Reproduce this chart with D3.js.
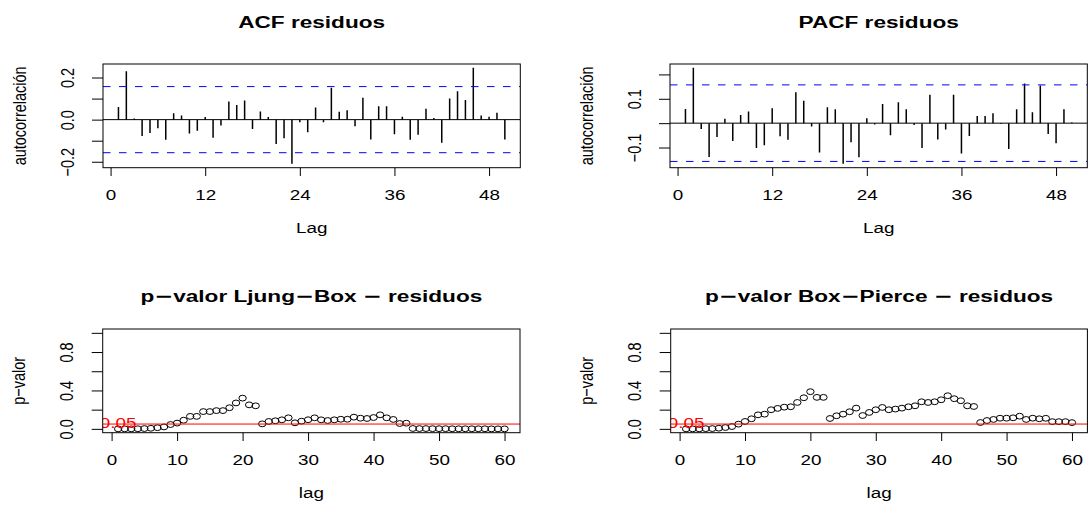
<!DOCTYPE html>
<html><head><meta charset="utf-8">
<script src="https://cdn.jsdelivr.net/npm/d3@7"></script>
<style>html,body{margin:0;padding:0;background:#fff;} svg{display:block;font-family:'Liberation Sans',Arial,Helvetica,sans-serif;} .mn{font-family:'DejaVu Sans';}</style>
</head><body><svg id="c" width="1088" height="506"></svg>
<script>
// ---------- data ----------
const acfValues = [0.060, 0.230, 0.005, -0.078, -0.064, -0.041, -0.096, 0.030, 0.020, -0.066,
  -0.053, 0.013, -0.086, -0.028, 0.086, 0.069, 0.091, -0.044, 0.039, 0.013,
  -0.116, -0.088, -0.210, -0.012, -0.060, 0.058, -0.012, 0.152, 0.038, 0.045,
  -0.031, 0.104, -0.094, 0.064, 0.064, -0.069, 0.014, -0.096, -0.072, 0.052,
  0.008, -0.110, 0.100, 0.135, 0.093, 0.246, 0.020, 0.014, 0.033, -0.094];
const pacfValues = [0.058, 0.227, -0.024, -0.139, -0.057, 0.018, -0.073, 0.033, 0.048, -0.102,
  -0.091, 0.061, -0.054, -0.068, 0.127, 0.092, -0.014, -0.120, 0.065, 0.057,
  -0.167, -0.078, -0.140, 0.020, -0.005, 0.079, -0.050, 0.086, 0.057, -0.008,
  -0.102, 0.117, -0.067, -0.026, 0.117, -0.125, -0.053, 0.029, 0.029, 0.041,
  -0.003, -0.106, 0.057, 0.163, 0.045, 0.155, -0.044, -0.082, 0.057, 0.003];
const ljungBoxP = [0.000, 0.000, 0.000, 0.001, 0.003, 0.006, 0.012, 0.020, 0.045, 0.060,
  0.090, 0.130, 0.130, 0.180, 0.180, 0.190, 0.190, 0.220, 0.270, 0.320,
  0.250, 0.240, 0.052, 0.077, 0.084, 0.094, 0.115, 0.063, 0.080, 0.095,
  0.115, 0.094, 0.087, 0.094, 0.100, 0.100, 0.122, 0.111, 0.108, 0.118,
  0.146, 0.115, 0.098, 0.056, 0.059, 0.004, 0.003, 0.003, 0.002, 0.002,
  0.002, 0.001, 0.001, 0.001, 0.001, 0.001, 0.001, 0.000, 0.000, 0.000];
const boxPierceP = [0.000, 0.000, 0.000, 0.002, 0.003, 0.007, 0.014, 0.024, 0.049, 0.077,
  0.105, 0.146, 0.153, 0.199, 0.213, 0.226, 0.230, 0.275, 0.324, 0.387,
  0.328, 0.328, 0.108, 0.136, 0.153, 0.178, 0.216, 0.139, 0.171, 0.199,
  0.223, 0.199, 0.206, 0.216, 0.230, 0.240, 0.282, 0.275, 0.282, 0.303,
  0.345, 0.314, 0.293, 0.240, 0.233, 0.066, 0.087, 0.098, 0.111, 0.111,
  0.115, 0.132, 0.098, 0.111, 0.105, 0.110, 0.075, 0.075, 0.075, 0.065];
const ciBound = 0.157;
const pThreshold = 0.05;
const pThresholdLabel = '0.05';
const acfTicksX = [0, 12, 24, 36, 48];
const acfTicksY = [-0.2, -0.1, 0, 0.1, 0.2];
const acfTickLabelsY = ['−0.2', '', '0.0', '', '0.2'];
const pacfTicksY = [-0.1, 0, 0.1, 0.2];
const pacfTickLabelsY = ['−0.1', '', '0.1', ''];
const pTicksX = [0, 10, 20, 30, 40, 50, 60];
const pTicksY = [0, 0.2, 0.4, 0.6, 0.8, 1.0];
const pTickLabelsY = ['0.0', '', '0.4', '', '0.8', ''];
const titles = ['ACF residuos', 'PACF residuos', 'p−valor Ljung−Box − residuos', 'p−valor Box−Pierce − residuos'];
const xLabels = ['Lag', 'Lag', 'lag', 'lag'];
const yLabels = ['autocorrelación', 'autocorrelación', 'p−valor', 'p−valor'];

// ---------- layout ----------
const SX = 1.3, FS = 14.5, FST = 17.4;
const boxes = [
  {x0: 103, x1: 520.3, y0: 64, y1: 167.7, ty: 22},
  {x0: 670, x1: 1087.3, y0: 64, y1: 167.7, ty: 22},
  {x0: 102.7, x1: 520, y0: 329, y1: 432.7, ty: 296},
  {x0: 670.7, x1: 1087.4, y0: 329, y1: 432.7, ty: 296}
];
const svg = d3.select('#c');
const ext = (lo, hi) => { const r = hi - lo; return [lo - 0.04 * r, hi + 0.04 * r]; };

function addTitle(t, str) {
  str.split(/(−)/).forEach(part => {
    if (!part) return;
    const s = t.append('tspan').text(part);
    if (part === '−') s.attr('class', 'mn');
  });
}

function frame(i, x, y, ticksX, ticksY, labelsY) {
  const b = boxes[i];
  svg.append('clipPath').attr('id', 'clip' + i).append('rect')
    .attr('x', b.x0).attr('y', b.y0).attr('width', b.x1 - b.x0).attr('height', b.y1 - b.y0);
  const gx = svg.append('g').attr('transform', `translate(0,${b.y1})`)
    .call(d3.axisBottom(x).tickValues(ticksX).tickSize(8.3).tickFormat(d3.format('d')));
  gx.attr('font-size', FS).attr('font-family', null);
  gx.select('.domain').remove();
  gx.selectAll('.tick line').attr('stroke', '#000');
  gx.selectAll('.tick text').attr('y', 27.6).attr('dy', '0.35em').attr('fill', '#000')
    .attr('transform', `scale(${SX},1)`);
  const gy = svg.append('g').attr('transform', `translate(${b.x0},0)`)
    .call(d3.axisLeft(y).tickValues(ticksY).tickSize(11).tickFormat((d, k) => labelsY[k]));
  gy.attr('font-size', FS).attr('font-family', null);
  gy.select('.domain').remove();
  gy.selectAll('.tick line').attr('stroke', '#000');
  gy.selectAll('.tick text').attr('x', 0).attr('y', 0).attr('dy', '0.35em').attr('fill', '#000')
    .attr('text-anchor', 'middle')
    .attr('transform', `translate(-36,0) scale(${SX},1) rotate(-90)`);
  const tt = svg.append('text').attr('text-anchor', 'middle').attr('dy', '0.35em').attr('font-size', FST)
    .attr('font-weight', 'bold')
    .attr('transform', `translate(${(b.x0 + b.x1) / 2},${b.ty}) scale(${SX},1)`);
  addTitle(tt, titles[i]);
  svg.append('text').attr('text-anchor', 'middle').attr('dy', '0.35em').attr('font-size', FS)
    .attr('transform', `translate(${(b.x0 + b.x1) / 2},${b.y1 + 60}) scale(${SX},1)`).text(xLabels[i]);
  svg.append('text').attr('text-anchor', 'middle').attr('dy', '0.35em').attr('font-size', FS)
    .attr('transform', `translate(${b.x0 - 84},${(b.y0 + b.y1) / 2}) scale(${SX},1) rotate(-90)`).text(yLabels[i]);
}

function corrPanel(i, values, ticksY, labelsY) {
  const b = boxes[i];
  const lags = values.map((_, k) => k + 1);
  const x = d3.scaleLinear().domain(ext(d3.min(lags), d3.max(lags))).range([b.x0, b.x1]);
  const yr = d3.extent(values.concat([-ciBound, ciBound]));
  const y = d3.scaleLinear().domain(ext(yr[0], yr[1])).range([b.y1, b.y0]);
  frame(i, x, y, acfTicksX, ticksY, labelsY);
  const g = svg.append('g').attr('clip-path', `url(#clip${i})`);
  g.append('line').attr('x1', b.x0).attr('x2', b.x1).attr('y1', y(0)).attr('y2', y(0))
    .attr('stroke', '#000').attr('stroke-width', 1);
  g.selectAll('line.spike').data(values).join('line').attr('class', 'spike')
    .attr('x1', (d, k) => x(lags[k])).attr('x2', (d, k) => x(lags[k]))
    .attr('y1', y(0)).attr('y2', d => y(d))
    .attr('stroke', '#000').attr('stroke-width', 1.5);
  g.selectAll('line.ci').data([ciBound, -ciBound]).join('line').attr('class', 'ci')
    .attr('x1', b.x0).attr('x2', b.x1).attr('y1', d => y(d)).attr('y2', d => y(d))
    .attr('stroke', '#0000FF').attr('stroke-width', 1).attr('stroke-dasharray', '7.5,8.5');
  svg.append('rect').attr('x', b.x0).attr('y', b.y0).attr('width', b.x1 - b.x0).attr('height', b.y1 - b.y0)
    .attr('fill', 'none').attr('stroke', '#000').attr('stroke-width', 1);
}

function pPanel(i, values) {
  const b = boxes[i];
  const lags = values.map((_, k) => k + 1);
  const x = d3.scaleLinear().domain(ext(d3.min(lags), d3.max(lags))).range([b.x0, b.x1]);
  const y = d3.scaleLinear().domain(ext(0, 1)).range([b.y1, b.y0]);
  frame(i, x, y, pTicksX, pTicksY, pTickLabelsY);
  const g = svg.append('g').attr('clip-path', `url(#clip${i})`);
  g.selectAll('ellipse').data(values).join('ellipse')
    .attr('cx', (d, k) => x(lags[k])).attr('cy', d => y(d))
    .attr('rx', 3.7).attr('ry', 2.9).attr('fill', 'none').attr('stroke', '#000').attr('stroke-width', 1);
  g.append('line').attr('x1', b.x0).attr('x2', b.x1).attr('y1', y(pThreshold)).attr('y2', y(pThreshold))
    .attr('stroke', '#FF0000').attr('stroke-width', 1);
  g.append('text').attr('text-anchor', 'middle').attr('dy', '0.35em').attr('font-size', FS).attr('fill', '#FF0000')
    .attr('transform', `translate(${x(1)},${y(pThreshold) - 1.5}) scale(${SX},1)`).text(pThresholdLabel);
  svg.append('rect').attr('x', b.x0).attr('y', b.y0).attr('width', b.x1 - b.x0).attr('height', b.y1 - b.y0)
    .attr('fill', 'none').attr('stroke', '#000').attr('stroke-width', 1);
}

corrPanel(0, acfValues, acfTicksY, acfTickLabelsY);
corrPanel(1, pacfValues, pacfTicksY, pacfTickLabelsY);
pPanel(2, ljungBoxP);
pPanel(3, boxPierceP);
</script></body></html>
